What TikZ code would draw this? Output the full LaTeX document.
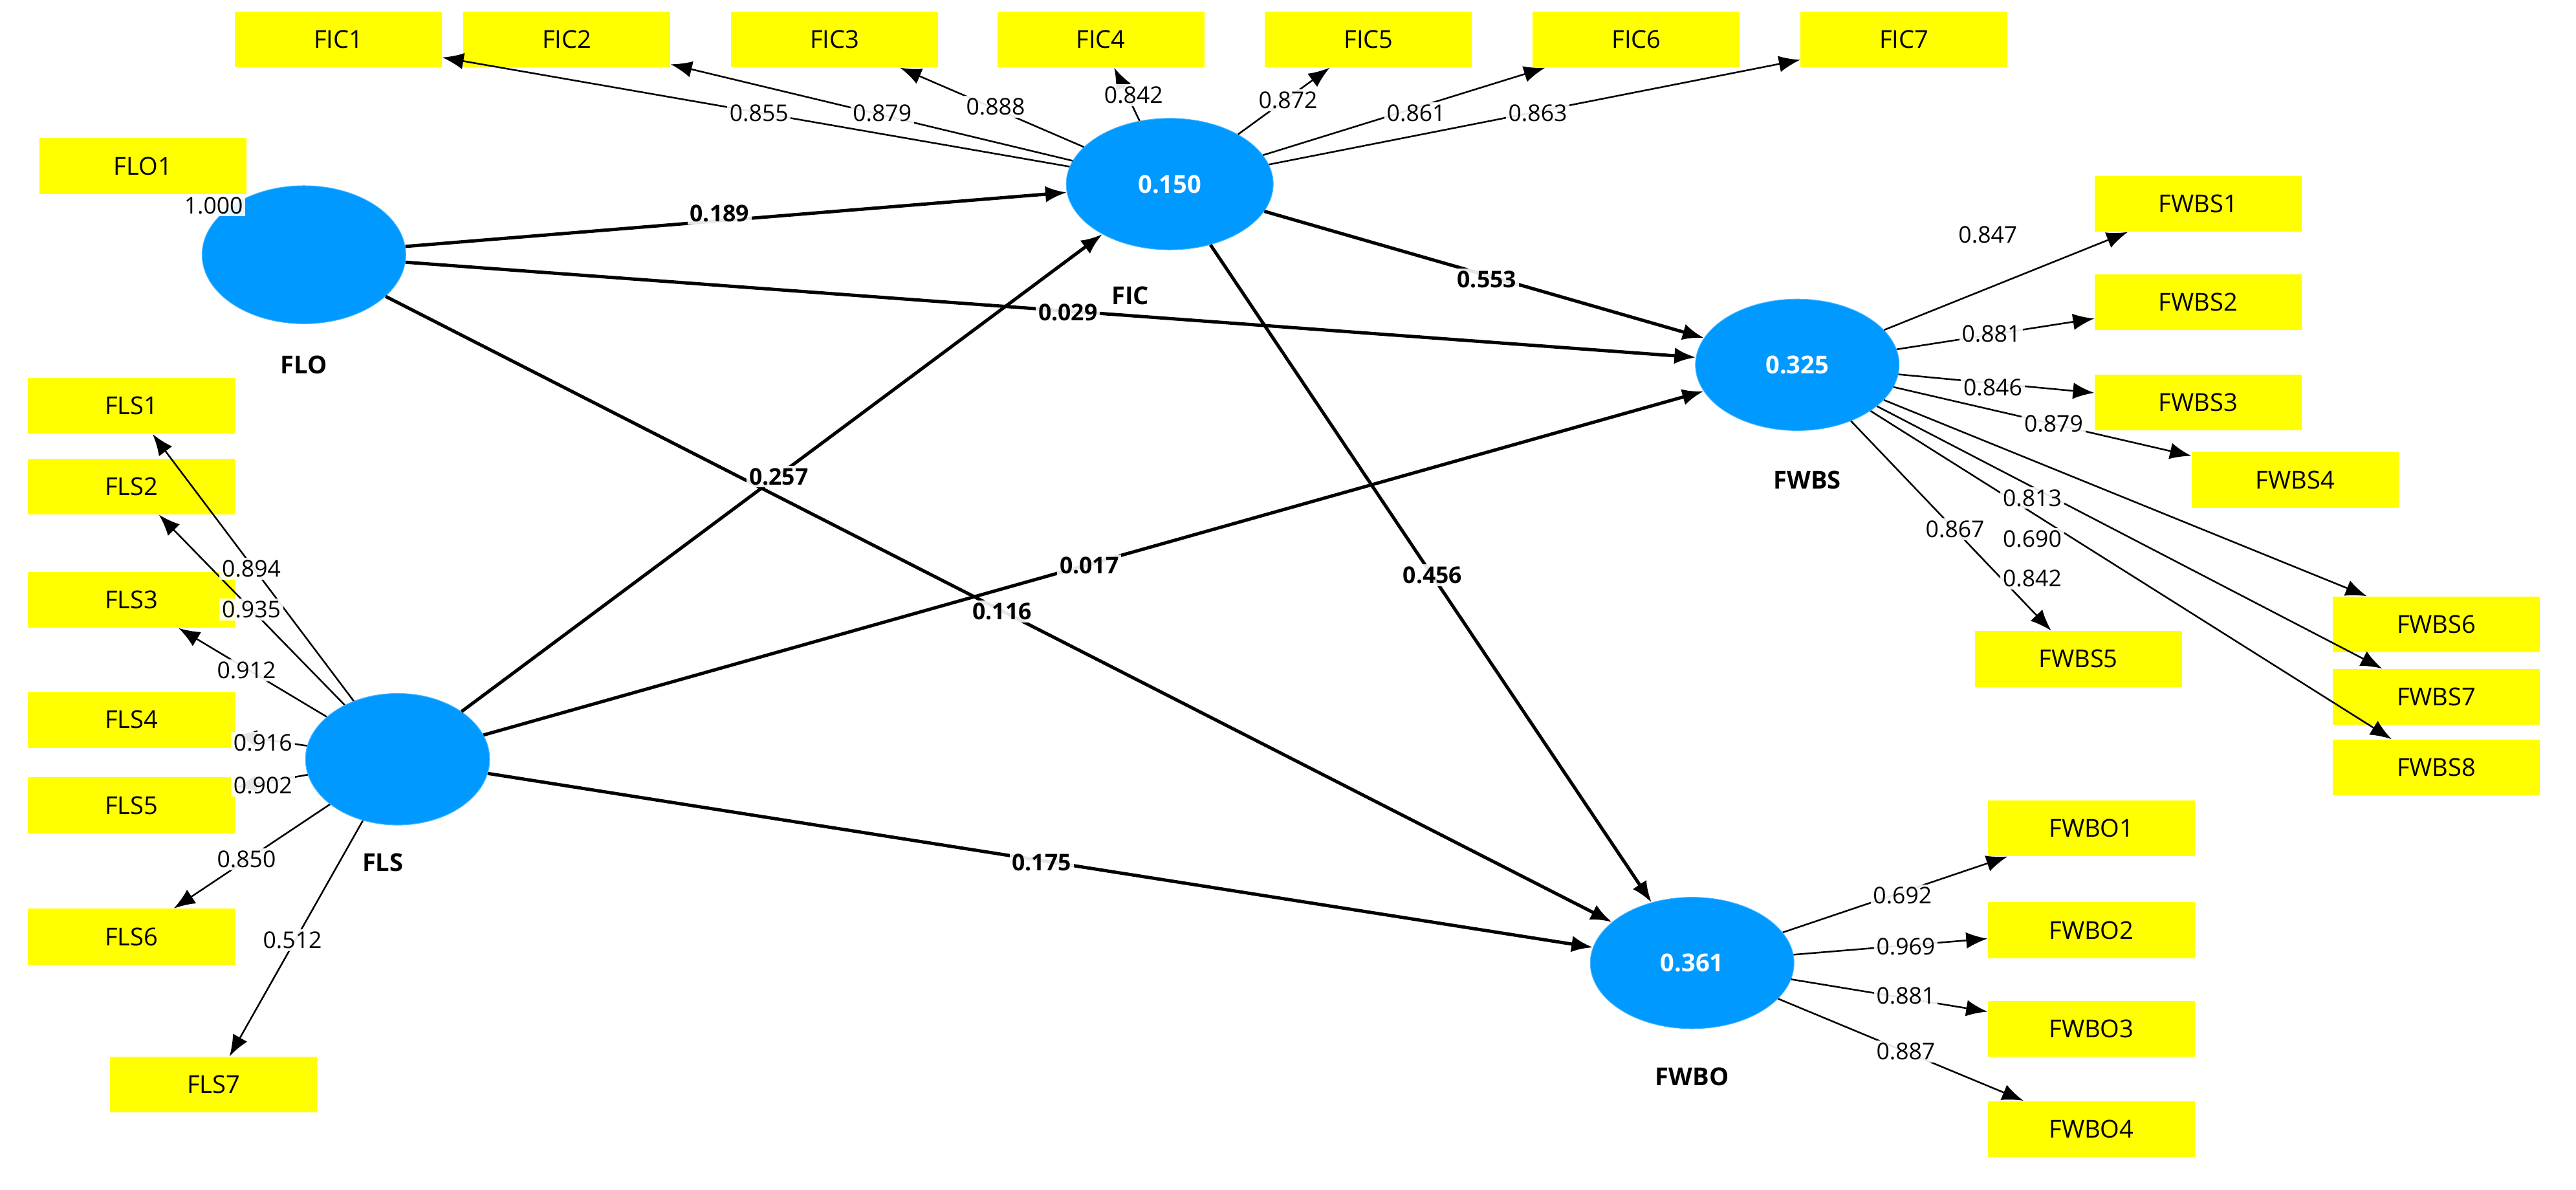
\documentclass[tikz,border=0pt]{standalone}
\usepackage{fontspec}
\setmainfont{Open Sans}
\usetikzlibrary{arrows.meta,shapes.geometric}
\definecolor{lv}{HTML}{0099FF}
\definecolor{ind}{HTML}{FFFF00}
\begin{document}
\begin{tikzpicture}[x=1pt,y=-1pt,
  box/.style={fill=ind,minimum width=126pt,minimum height=34pt,inner sep=0pt,font=\fontsize{15}{17}\selectfont},
  lat/.style={ellipse,fill=lv,draw=lv!70,inner sep=0pt,text=white,font=\bfseries\fontsize{15}{17}\selectfont},
  spath/.style={line width=2pt,-{Latex[length=13pt,width=10pt]}},
  load/.style={line width=1pt,-{Latex[length=13pt,width=10pt]}},
  lab/.style={fill=white,fill opacity=0.9,text opacity=1,inner sep=1.5pt,font=\fontsize{14}{16}\selectfont},
  blab/.style={fill=white,fill opacity=0.9,text opacity=1,inner sep=1.5pt,font=\bfseries\fontsize{14}{16}\selectfont},
  lvname/.style={font=\bfseries\fontsize{15}{17}\selectfont}]
\useasboundingbox (0,0) rectangle (1568,724);
% latent
\node[lat,minimum width=124pt,minimum height=84pt] (FLO) at (185,155) {};
\node[lat,minimum width=126pt,minimum height=80pt] (FIC) at (712,112) {0.150};
\node[lat,minimum width=124pt,minimum height=80pt] (FWBS) at (1094,222) {0.325};
\node[lat,minimum width=124pt,minimum height=80pt] (FWBO) at (1030,586) {0.361};
\node[lat,minimum width=112pt,minimum height=80pt] (FLS) at (242,462) {};
\node[lvname] (nFLO) at (185,222) {FLO};
\node[lvname] (nFIC) at (688,180) {FIC};
\node[lvname] (nFWBS) at (1100,292) {FWBS};
\node[lvname] (nFWBO) at (1030,655) {FWBO};
\node[lvname] (nFLS) at (233,525) {FLS};
% indicators
\node[box] (FLO1) at (87,101) {FLO1};
\foreach \n/\x in {1/206,2/345,3/508,4/670,5/833,6/996,7/1159}{\node[box] (FIC\n) at (\x,24) {FIC\n};}
\foreach \n/\x/\y in {1/1338/124,2/1338/184,3/1338/245,4/1397/292,5/1265/401,6/1483/380,7/1483/424,8/1483/467}{\node[box] (FWBS\n) at (\x,\y) {FWBS\n};}
\foreach \n/\y in {1/504,2/566,3/626,4/687}{\node[box] (FWBO\n) at (1273,\y) {FWBO\n};}
\foreach \n/\x/\y in {1/80/247,2/80/296,3/80/365,4/80/438,5/80/490,6/80/570,7/130/660}{\node[box] (FLS\n) at (\x,\y) {FLS\n};}
% loadings
\foreach \n in {1,...,7}{\draw[load] (FIC) -- (FIC\n);}
\foreach \n in {1,...,8}{\draw[load] (FWBS) -- (FWBS\n);}
\foreach \n in {1,...,4}{\draw[load] (FWBO) -- (FWBO\n);}
\foreach \n in {1,...,7}{\draw[load] (FLS) -- (FLS\n);}
\node[lat,minimum width=112pt,minimum height=80pt] (FLSc) at (242,462) {};
% structural
\draw[spath] (FLO) -- (FIC);
\draw[spath] (FLO) -- (FWBS);
\draw[spath] (FLO) -- (FWBO);
\draw[spath] (FLS) -- (FIC);
\draw[spath] (FLS) -- (FWBS);
\draw[spath] (FLS) -- (FWBO);
\draw[spath] (FIC) -- (FWBS);
\draw[spath] (FIC) -- (FWBO);
% labels
\node[lab] (l0) at (130,125) {1.000};
\foreach \t/\x/\y in {0.855/462/69,0.879/537/69,0.888/606/65,0.842/690/58,0.872/784/61,0.861/862/69,0.863/936/69,
 0.847/1210/143,0.881/1212/203,0.846/1213/236,0.879/1250/258,0.813/1237/303,0.690/1237/328,0.842/1237/352,0.867/1190/322,
 0.692/1158/545,0.969/1160/576,0.881/1160/606,0.887/1160/640,
 0.894/153/346,0.935/153/371,0.912/150/408,0.916/160/452,0.902/160/478,0.850/150/523,0.512/178/572}{\node[lab] at (\x,\y) {\t};}
\foreach \t/\x/\y in {0.189/438/130,0.029/650/190,0.553/905/170,0.257/474/290,0.017/663/344,0.116/610/372,0.456/872/350,0.175/634/525}{\node[blab] at (\x,\y) {\t};}
\end{tikzpicture}
\end{document}
